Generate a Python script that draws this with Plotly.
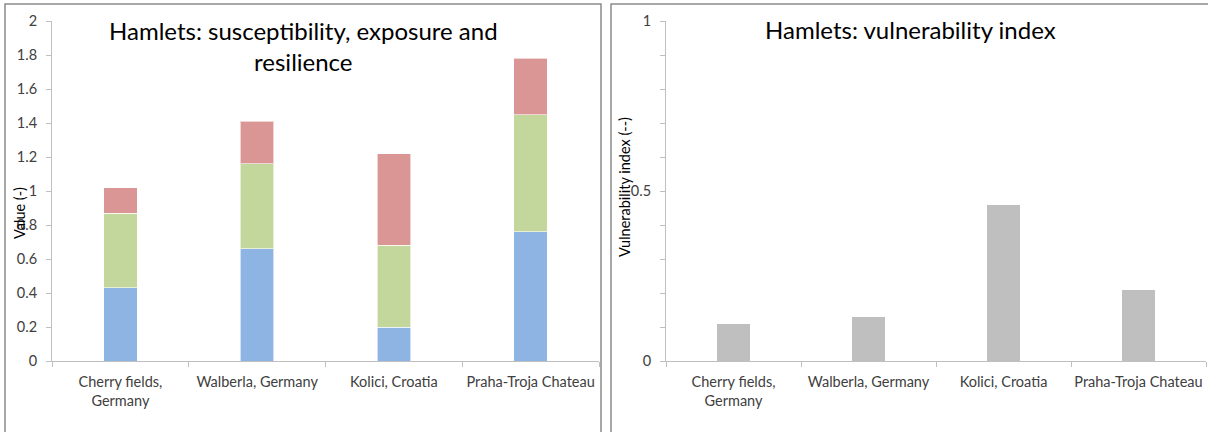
import plotly.graph_objects as go

categories = ["Cherry fields,<br>Germany", "Walberla, Germany", "Kolici, Croatia", "Praha-Troja Chateau"]
susceptibility = [0.43, 0.66, 0.20, 0.76]
exposure = [0.44, 0.50, 0.48, 0.69]
resilience = [0.15, 0.25, 0.54, 0.33]
vulnerability = [0.11, 0.13, 0.46, 0.21]

W, H = 1208, 432
FONT = "Lato, Carlito, Calibri, sans-serif"
TXT = "#404040"
AX = "#bfbfbf"

def px(x):
    return x / W

def py(y):
    return 1 - y / H

fig = go.Figure()
for name, vals, col in [("Susceptibility", susceptibility, "#8EB4E3"),
                        ("Exposure", exposure, "#C3D69B"),
                        ("Resilience", resilience, "#D99694")]:
    fig.add_trace(go.Bar(x=categories, y=vals, name=name, marker_color=col,
                         marker_line=dict(color="rgba(255,255,255,0.6)", width=1),
                         xaxis="x", yaxis="y", width=0.245, showlegend=False))
fig.add_trace(go.Bar(x=categories, y=vulnerability, name="Vulnerability index",
                     marker_color="#BFBFBF",
                     marker_line=dict(color="rgba(255,255,255,0.6)", width=1),
                     xaxis="x2", yaxis="y2", width=0.25, showlegend=False))

ydom = [py(361), py(21)]
TF = dict(family=FONT, size=14.5, color=TXT)
common_x = dict(type="category", showline=True, linecolor=AX, linewidth=1,
                ticks="outside", tickson="boundaries", tickcolor=AX, ticklen=5,
                tickfont=TF, tickangle=0, ticklabelstandoff=8,
                showgrid=False, automargin=False,
                range=[-0.5, 3.5], fixedrange=True)
common_y = dict(showline=True, linecolor=AX, ticks="outside", tickcolor=AX, ticklen=5,
                showgrid=False, zeroline=False, automargin=False, tickfont=TF,
                ticklabelstandoff=6, fixedrange=True)
fig.update_layout(
    width=W, height=H, barmode="stack", bargap=0.75,
    margin=dict(l=0, r=0, t=0, b=0, autoexpand=False),
    paper_bgcolor="white", plot_bgcolor="white",
    font=dict(family=FONT, color=TXT),
    xaxis=dict(domain=[px(52), px(599)], anchor="y", **common_x),
    xaxis2=dict(domain=[px(666), px(1206)], anchor="y2", **common_x),
    yaxis=dict(domain=ydom, anchor="x", range=[0, 2], dtick=0.2, tick0=0, **common_y),
    yaxis2=dict(domain=ydom, anchor="x2", range=[0, 1], dtick=0.5, tick0=0,
                minor=dict(dtick=0.1, ticks="outside", ticklen=5, tickcolor=AX),
                **common_y),
    shapes=[
        dict(type="rect", xref="paper", yref="paper", x0=px(5), x1=px(601),
             y0=py(440), y1=py(4), line=dict(color="#8c8c8c", width=1.5)),
        dict(type="rect", xref="paper", yref="paper", x0=px(611), x1=px(1215),
             y0=py(440), y1=py(4), line=dict(color="#8c8c8c", width=1.5)),
    ],
    annotations=[
        dict(text="Hamlets: susceptibility, exposure and<br>resilience", xref="paper", yref="paper",
             x=px(303), y=py(46), showarrow=False, xanchor="center", yanchor="middle",
             font=dict(family=FONT, size=24, color="#000000")),
        dict(text="Hamlets: vulnerability index", xref="paper", yref="paper",
             x=px(910), y=py(30), showarrow=False, xanchor="center", yanchor="middle",
             font=dict(family=FONT, size=24, color="#000000")),
        dict(text="Value (-)", xref="paper", yref="paper", x=px(19), y=py(213),
             showarrow=False, textangle=-90, xanchor="center", yanchor="middle",
             font=dict(family=FONT, size=14.5, color="#000000")),
        dict(text="Vulnerability index (--)", xref="paper", yref="paper", x=px(624), y=py(187),
             showarrow=False, textangle=-90, xanchor="center", yanchor="middle",
             font=dict(family=FONT, size=14.5, color="#000000")),
    ],
)

fig.write_html("out.html", config={"displayModeBar": False},
               post_script="document.body.style.margin='0';document.body.style.overflow='hidden';")
